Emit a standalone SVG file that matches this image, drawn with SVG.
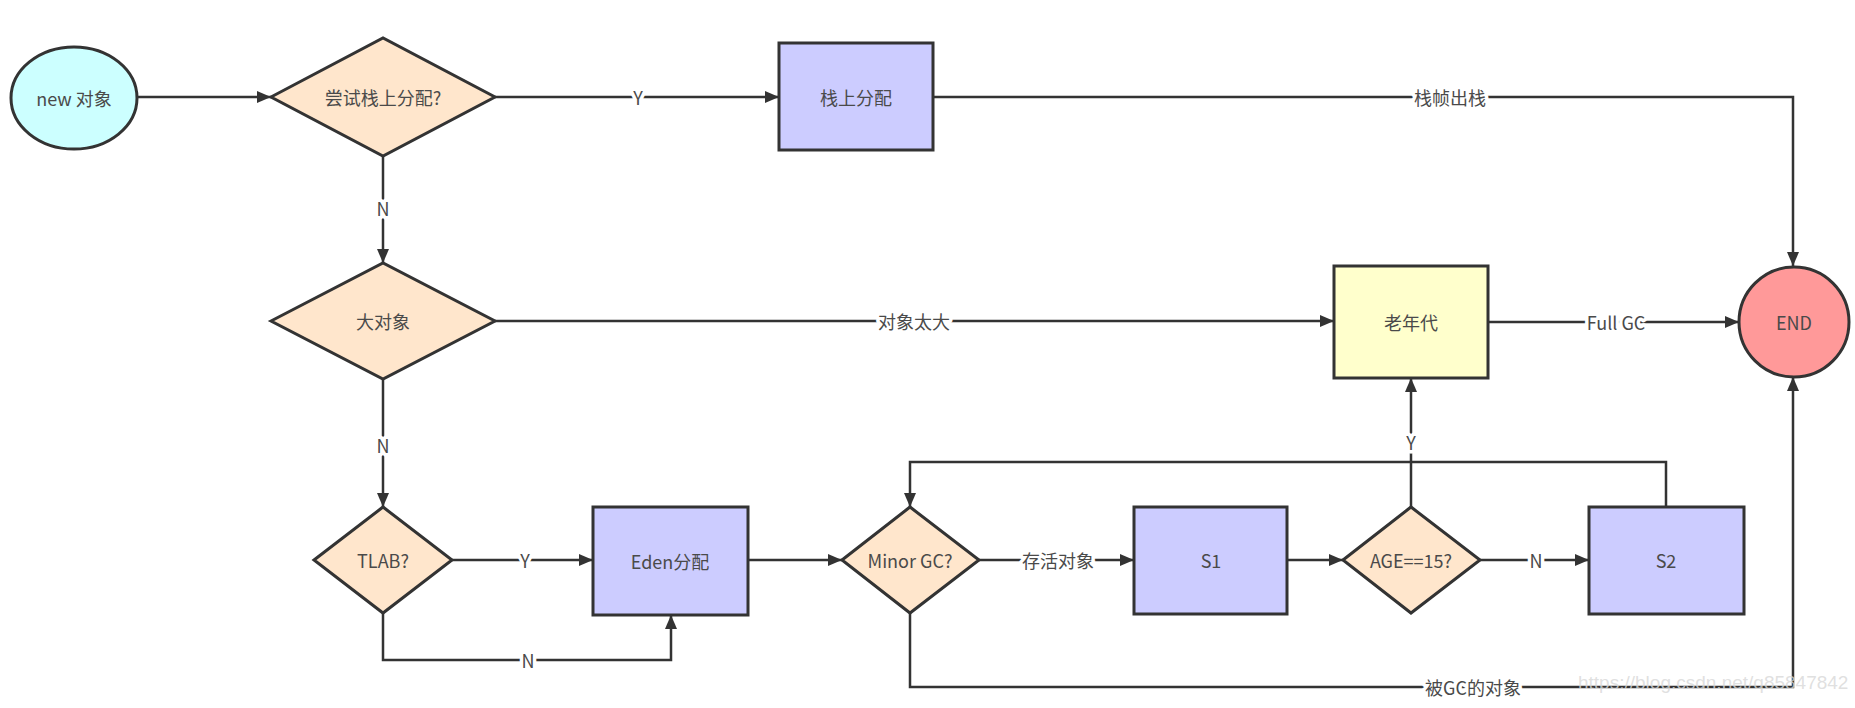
<svg xmlns="http://www.w3.org/2000/svg" width="1855" height="708" viewBox="0 0 1855 708">
<style>
.n{stroke:#333;stroke-width:3}
.t{font-family:"Noto Sans CJK SC","Liberation Sans",sans-serif;font-size:18px;fill:#4a4a4a;text-anchor:middle;dominant-baseline:central}
.c{fill:none;stroke:#333;stroke-width:2.5}
.l{font-family:"Noto Sans CJK SC","Liberation Sans",sans-serif;font-size:18px;fill:#4a4a4a;text-anchor:middle;dominant-baseline:central;stroke:#fff;stroke-width:7;paint-order:stroke;stroke-linejoin:round}
.w{font-family:"Liberation Sans",sans-serif;font-size:19px;fill:#d8d8d8;fill-opacity:0.8}
</style>
<defs>
<marker id="a" viewBox="0 0 14 12" refX="14" refY="6" markerWidth="14" markerHeight="12" markerUnits="userSpaceOnUse" orient="auto">
<path d="M0,0 L14,6 L0,12 Z" fill="#333"/>
</marker>
</defs>
<rect width="1855" height="708" fill="#fff"/>
<g id="connectors">
<path class="c" d="M137,97 H271" marker-end="url(#a)"/>
<path class="c" d="M495,97 H779" marker-end="url(#a)"/>
<path class="c" d="M933,97 H1793 V266" marker-end="url(#a)"/>
<path class="c" d="M383,155 V263" marker-end="url(#a)"/>
<path class="c" d="M495,321 H1334" marker-end="url(#a)"/>
<path class="c" d="M1488,322 H1739" marker-end="url(#a)"/>
<path class="c" d="M383,379 V507" marker-end="url(#a)"/>
<path class="c" d="M452,560 H593" marker-end="url(#a)"/>
<path class="c" d="M383,613 V660 H671 V615" marker-end="url(#a)"/>
<path class="c" d="M748,560 H842" marker-end="url(#a)"/>
<path class="c" d="M979,560 H1134" marker-end="url(#a)"/>
<path class="c" d="M1287,560 H1343" marker-end="url(#a)"/>
<path class="c" d="M1480,560 H1589" marker-end="url(#a)"/>
<path class="c" d="M1666,507 V462 H910 V507" marker-end="url(#a)"/>
<path class="c" d="M1411,507 V378" marker-end="url(#a)"/>
<path class="c" d="M910,613 V687 H1793 V377" marker-end="url(#a)"/>
<text class="l" x="638" y="97">Y</text>
<text class="l" x="1450" y="97">栈帧出栈</text>
<text class="l" x="383" y="208">N</text>
<text class="l" x="914" y="321">对象太大</text>
<text class="l" x="1616" y="322">Full GC</text>
<text class="l" x="383" y="445">N</text>
<text class="l" x="525" y="560">Y</text>
<text class="l" x="528" y="660">N</text>
<text class="l" x="1058" y="560">存活对象</text>
<text class="l" x="1536" y="560">N</text>
<text class="l" x="1411" y="442">Y</text>
<text class="l" x="1473" y="687">被GC的对象</text>
</g>
<g id="new"><ellipse class="n" cx="74" cy="98" rx="63" ry="51" fill="#CCFFFF"/><text class="t" x="74" y="98">new 对象</text></g>
<g id="tryStack"><polygon class="n" points="271,97 383,38 495,97 383,156" fill="#FFE6CC"/><text class="t" x="383" y="97">尝试栈上分配?</text></g>
<g id="stackAlloc"><rect class="n" x="779" y="43" width="154" height="107" fill="#CCCCFF"/><text class="t" x="856" y="97">栈上分配</text></g>
<g id="bigObj"><polygon class="n" points="271,321 383,263 495,321 383,379" fill="#FFE6CC"/><text class="t" x="383" y="321">大对象</text></g>
<g id="old"><rect class="n" x="1334" y="266" width="154" height="112" fill="#FFFFCC"/><text class="t" x="1411" y="322">老年代</text></g>
<g id="end"><circle class="n" cx="1794" cy="322" r="55" fill="#FF9999"/><text class="t" x="1794" y="322">END</text></g>
<g id="tlab"><polygon class="n" points="314,560 383,507 452,560 383,613" fill="#FFE6CC"/><text class="t" x="383" y="560">TLAB?</text></g>
<g id="eden"><rect class="n" x="593" y="507" width="155" height="108" fill="#CCCCFF"/><text class="t" x="670" y="561">Eden分配</text></g>
<g id="minor"><polygon class="n" points="842,560 910,507 979,560 910,613" fill="#FFE6CC"/><text class="t" x="910" y="560">Minor GC?</text></g>
<g id="s1"><rect class="n" x="1134" y="507" width="153" height="107" fill="#CCCCFF"/><text class="t" x="1211" y="560">S1</text></g>
<g id="age"><polygon class="n" points="1343,560 1411,507 1480,560 1411,613" fill="#FFE6CC"/><text class="t" x="1411" y="560">AGE==15?</text></g>
<g id="s2"><rect class="n" x="1589" y="507" width="155" height="107" fill="#CCCCFF"/><text class="t" x="1666" y="560">S2</text></g>
<text class="w" x="1578" y="689">https://blog.csdn.net/q85847842</text>
</svg>
